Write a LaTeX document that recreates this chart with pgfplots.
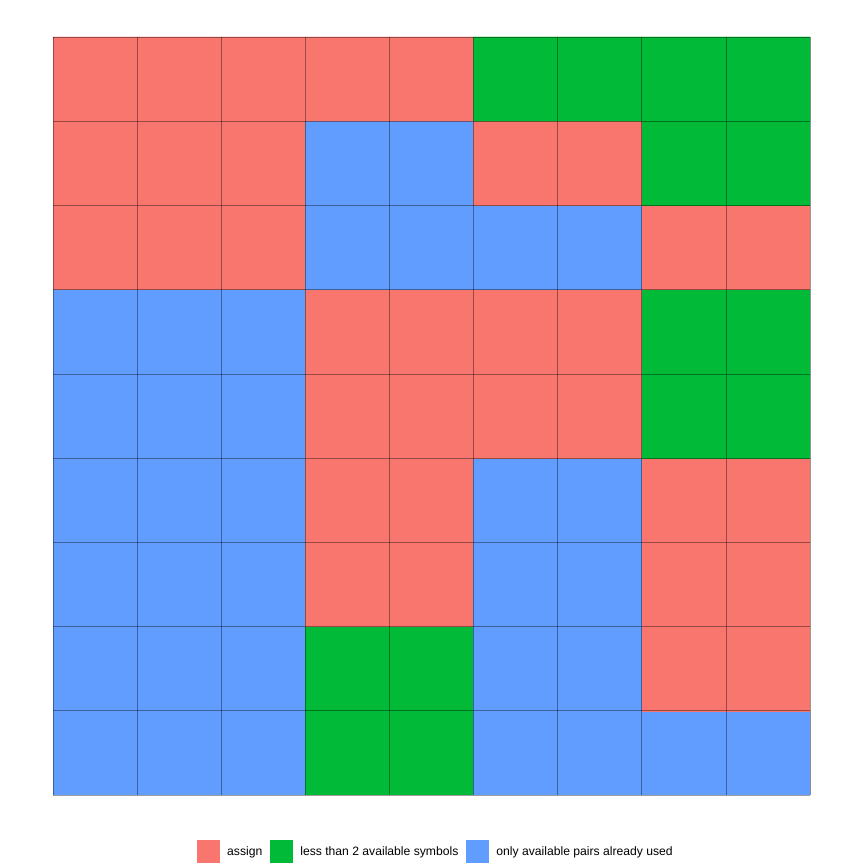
\documentclass[border=0pt]{standalone}
\usepackage{pgfplots}
\pgfplotsset{compat=1.18}
\usepackage{fontspec}
\setmainfont{Liberation Sans}
\definecolor{cR}{RGB}{248,118,109}
\definecolor{cG}{RGB}{0,186,56}
\definecolor{cB}{RGB}{97,156,255}
\begin{document}
\begin{tikzpicture}[x=1bp,y=1bp]
\useasboundingbox (0,0) rectangle (864,864);
\begin{axis}[
  at={(53bp,69bp)}, anchor=south west,
  scale only axis, width=757bp, height=758bp,
  xmin=-0.5, xmax=8.5, ymin=-0.5, ymax=8.5,
  axis line style={draw=none},
  xtick={-0.5,0.5,...,8.5}, ytick={-0.5,0.5,...,8.5},
  xticklabels={}, yticklabels={},
  major tick length=0pt,
  grid=major,
  grid style={draw=black, draw opacity=0.38, line width=0.6bp},
  axis on top,
  colormap={cat}{rgb255=(248,118,109) rgb255=(0,186,56) rgb255=(97,156,255)},
  colormap access=direct,
  legend columns=3,
  legend style={draw=none, fill=none, at={(0.5046,-0.0752)}, anchor=center,
    font=\fontsize{12.2}{14}\selectfont,
    nodes={inner sep=0pt},
    /tikz/every odd column/.append style={column sep=7bp},
    /tikz/every even column/.append style={column sep=8bp}},
  legend image code/.code={\fill[#1, draw=none] (0bp,-11.5bp) rectangle (23bp,11.5bp);},
]
\addplot[matrix plot*, mesh/cols=9, point meta=explicit, forget plot] table[meta=c] {
x y c
0 0 2
1 0 2
2 0 2
3 0 1
4 0 1
5 0 2
6 0 2
7 0 2
8 0 2
0 1 2
1 1 2
2 1 2
3 1 1
4 1 1
5 1 2
6 1 2
7 1 0
8 1 0
0 2 2
1 2 2
2 2 2
3 2 0
4 2 0
5 2 2
6 2 2
7 2 0
8 2 0
0 3 2
1 3 2
2 3 2
3 3 0
4 3 0
5 3 2
6 3 2
7 3 0
8 3 0
0 4 2
1 4 2
2 4 2
3 4 0
4 4 0
5 4 0
6 4 0
7 4 1
8 4 1
0 5 2
1 5 2
2 5 2
3 5 0
4 5 0
5 5 0
6 5 0
7 5 1
8 5 1
0 6 0
1 6 0
2 6 0
3 6 2
4 6 2
5 6 2
6 6 2
7 6 0
8 6 0
0 7 0
1 7 0
2 7 0
3 7 2
4 7 2
5 7 0
6 7 0
7 7 1
8 7 1
0 8 0
1 8 0
2 8 0
3 8 0
4 8 0
5 8 1
6 8 1
7 8 1
8 8 1
};
\addlegendimage{fill=cR, draw=none}
\addlegendentry{assign}
\addlegendimage{fill=cG, draw=none}
\addlegendentry{less than 2 available symbols}
\addlegendimage{fill=cB, draw=none}
\addlegendentry{only available pairs already used}
\end{axis}
\end{tikzpicture}
\end{document}
